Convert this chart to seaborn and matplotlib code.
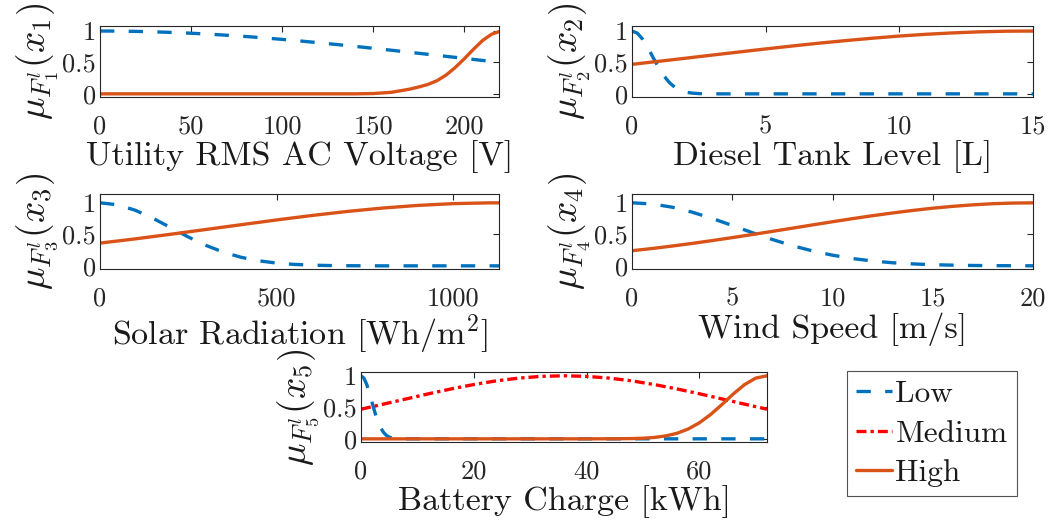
import numpy as np
import pandas as pd
import matplotlib
matplotlib.use("Agg")
import matplotlib.pyplot as plt
import seaborn as sns

# ---------------- data ----------------
# Plot 1: Utility RMS AC Voltage [V]
v_low_x = [0, 10, 20, 30, 40, 50, 60, 70, 80, 90, 100, 110, 120, 130, 140, 150,
           160, 170, 180, 190, 200, 210, 220]
v_low_y = [1.000, 0.999, 0.994, 0.987, 0.977, 0.965, 0.950, 0.932, 0.913, 0.891,
           0.867, 0.841, 0.814, 0.785, 0.756, 0.725, 0.694, 0.662, 0.629, 0.597,
           0.564, 0.532, 0.501]
v_high_x = [0, 140, 150, 160, 165, 170, 175, 180, 185, 190, 195, 200, 205, 210, 215, 220]
v_high_y = [0.0, 0.0, 0.005, 0.025, 0.05, 0.075, 0.11, 0.15, 0.21, 0.30, 0.42,
            0.56, 0.71, 0.85, 0.95, 1.0]

# Plot 2: Diesel Tank Level [L]
d_low_x = [0, 0.2, 0.4, 0.6, 0.8, 1.0, 1.2, 1.4, 1.6, 1.8, 2.0, 2.2, 2.5, 3.0, 15]
d_low_y = [1.000, 0.966, 0.869, 0.729, 0.570, 0.416, 0.283, 0.179, 0.106, 0.058,
           0.030, 0.014, 0.004, 0.000, 0.000]
d_high_x = [0, 1, 2, 3, 4, 5, 6, 7, 8, 9, 10, 11, 12, 13, 14, 15]
d_high_y = [0.470, 0.518, 0.567, 0.617, 0.666, 0.715, 0.762, 0.807, 0.848, 0.886,
            0.920, 0.948, 0.970, 0.987, 0.997, 1.000]

# Plot 3: Solar Radiation [Wh/m^2]
s_low_x = [0, 50, 100, 150, 200, 250, 300, 350, 400, 450, 500, 550, 600, 650, 700,
           750, 800, 1130]
s_low_y = [1.000, 0.969, 0.882, 0.755, 0.607, 0.458, 0.325, 0.216, 0.135, 0.080,
           0.044, 0.023, 0.011, 0.005, 0.002, 0.001, 0.000, 0.000]
s_high_x = [0, 100, 200, 300, 400, 500, 600, 700, 800, 900, 1000, 1100, 1130]
s_high_y = [0.361, 0.428, 0.501, 0.577, 0.653, 0.728, 0.799, 0.863, 0.917, 0.959,
            0.987, 0.999, 1.000]

# Plot 4: Wind Speed [m/s]
w_x = [0, 1, 2, 3, 4, 5, 6, 7, 8, 9, 10, 11, 12, 13, 14, 15, 16, 17, 18, 19, 20]
w_low_y = [1.000, 0.982, 0.931, 0.852, 0.752, 0.641, 0.527, 0.418, 0.320, 0.237,
           0.169, 0.116, 0.077, 0.049, 0.031, 0.018, 0.011, 0.006, 0.003, 0.002, 0.001]
w_high_y = [0.240, 0.275, 0.314, 0.356, 0.401, 0.448, 0.497, 0.547, 0.598, 0.649,
            0.700, 0.749, 0.796, 0.839, 0.879, 0.915, 0.944, 0.968, 0.986, 0.996, 1.000]

# Plot 5: Battery Charge [kWh]
b_low_x = [0, 0.5, 1, 1.5, 2, 2.5, 3, 3.5, 4, 4.5, 5, 5.5, 6, 7, 72]
b_low_y = [1.000, 0.965, 0.867, 0.725, 0.565, 0.409, 0.276, 0.174, 0.102, 0.055,
           0.028, 0.013, 0.006, 0.001, 0.000]
b_med_x = [0, 4, 8, 12, 16, 20, 24, 28, 32, 36, 40, 44, 48, 52, 56, 60, 64, 68, 72]
b_med_y = [0.470, 0.551, 0.633, 0.715, 0.792, 0.861, 0.920, 0.963, 0.991, 1.000,
           0.991, 0.963, 0.920, 0.861, 0.792, 0.715, 0.633, 0.551, 0.470]
b_high_x = [0, 40, 45, 48, 50, 52, 54, 56, 58, 60, 62, 64, 66, 68, 70, 72]
b_high_y = [0.000, 0.000, 0.001, 0.004, 0.010, 0.022, 0.046, 0.087, 0.155, 0.254,
            0.386, 0.543, 0.710, 0.859, 0.963, 1.000]

xlabels = ["Utility RMS AC Voltage [V]", "Diesel Tank Level [L]",
           r"Solar Radiation [Wh/m$^2$]", "Wind Speed [m/s]", "Battery Charge [kWh]"]
ylabels = [r"$\mu_{F_{1}^{l}}(x_{1})$", r"$\mu_{F_{2}^{l}}(x_{2})$",
           r"$\mu_{F_{3}^{l}}(x_{3})$", r"$\mu_{F_{4}^{l}}(x_{4})$",
           r"$\mu_{F_{5}^{l}}(x_{5})$"]
xlims = [(0, 219), (0, 15), (0, 1130), (0, 20), (0, 72)]
xticks = [[0, 50, 100, 150, 200], [0, 5, 10, 15], [0, 500, 1000],
          [0, 5, 10, 15, 20], [0, 20, 40, 60]]
ytick_vals = [0, 0.5, 1]
ytick_labels = ["0", "0.5", "1"]
legend_labels = ["Low", "Medium", "High"]

# ---------------- style ----------------
sns.set_theme(style="white")
plt.rcParams.update({
    "font.family": ["serif"],
    "font.serif": ["cmr10", "DejaVu Serif"],
    "mathtext.fontset": "cm",
    "axes.formatter.use_mathtext": True,
    "axes.edgecolor": "#262626",
    "axes.linewidth": 0.8,
    "xtick.direction": "in",
    "ytick.direction": "in",
    "xtick.top": True,
    "ytick.right": True,
    "xtick.color": "#262626",
    "ytick.color": "#262626",
    "text.color": "#1a1a1a",
    "axes.labelcolor": "#1a1a1a",
})

BLUE = "#0072BD"
ORANGE = "#D95319"
RED = "#FF0000"
LW = 2.4
DASH = (0, (4.3, 4.3))
DASHDOT = (0, (3.0, 1.2, 1.0, 1.2))

fig = plt.figure(figsize=(10.56, 5.22), dpi=100)
W, H = 1056.0, 522.0


def make_ax(left, right, top, bottom):
    return fig.add_axes([left / W, 1 - bottom / H, (right - left) / W, (bottom - top) / H])


axes = [
    make_ax(100, 499, 26, 97),
    make_ax(632, 1033, 26, 97),
    make_ax(100, 499, 194, 269),
    make_ax(632, 1033, 194, 269),
    make_ax(361, 767, 372, 442),
]
ylims = [(-0.05, 1.08), (-0.05, 1.08), (-0.05, 1.14), (-0.05, 1.14), (-0.05, 1.06)]

curves = [
    [(v_low_x, v_low_y, "Low"), (v_high_x, v_high_y, "High")],
    [(d_low_x, d_low_y, "Low"), (d_high_x, d_high_y, "High")],
    [(s_low_x, s_low_y, "Low"), (s_high_x, s_high_y, "High")],
    [(w_x, w_low_y, "Low"), (w_x, w_high_y, "High")],
    [(b_low_x, b_low_y, "Low"), (b_med_x, b_med_y, "Medium"), (b_high_x, b_high_y, "High")],
]
styles = {"Low": (BLUE, DASH), "Medium": (RED, DASHDOT), "High": (ORANGE, "-")}

for i, ax in enumerate(axes):
    for xs, ys, name in curves[i]:
        col, ls = styles[name]
        df = pd.DataFrame({"x": xs, "y": ys})
        sns.lineplot(data=df, x="x", y="y", ax=ax, color=col, linestyle=ls,
                     linewidth=LW, label=name, legend=False, sort=False,
                     estimator=None)
    ax.set_xlim(*xlims[i])
    ax.set_ylim(*ylims[i])
    ax.set_xticks(xticks[i])
    ax.set_xticklabels([str(t) for t in xticks[i]])
    ax.set_yticks(ytick_vals)
    ax.set_yticklabels(ytick_labels)
    ax.tick_params(axis="both", labelsize=19, length=4, width=0.8)
    ax.tick_params(axis="x", pad=13)
    ax.tick_params(axis="y", pad=3)
    ax.set_xlabel(xlabels[i], fontsize=24.5, labelpad=1)
    ax.set_ylabel(ylabels[i], fontsize=27, labelpad=1)
    for sp in ax.spines.values():
        sp.set_visible(True)
        sp.set_color("#262626")
        sp.set_linewidth(0.8)

handles, labels = axes[4].get_legend_handles_labels()
leg = fig.legend(handles, labels, loc="upper left",
                 bbox_to_anchor=(847 / W, 1 - 371 / H), frameon=True,
                 fancybox=False, edgecolor="#262626", fontsize=22.5,
                 handlelength=1.15, handletextpad=0.1, labelspacing=0.36,
                 borderpad=0.3, borderaxespad=0.0)
leg.get_frame().set_linewidth(0.8)

fig.savefig("out.png", dpi=100)
